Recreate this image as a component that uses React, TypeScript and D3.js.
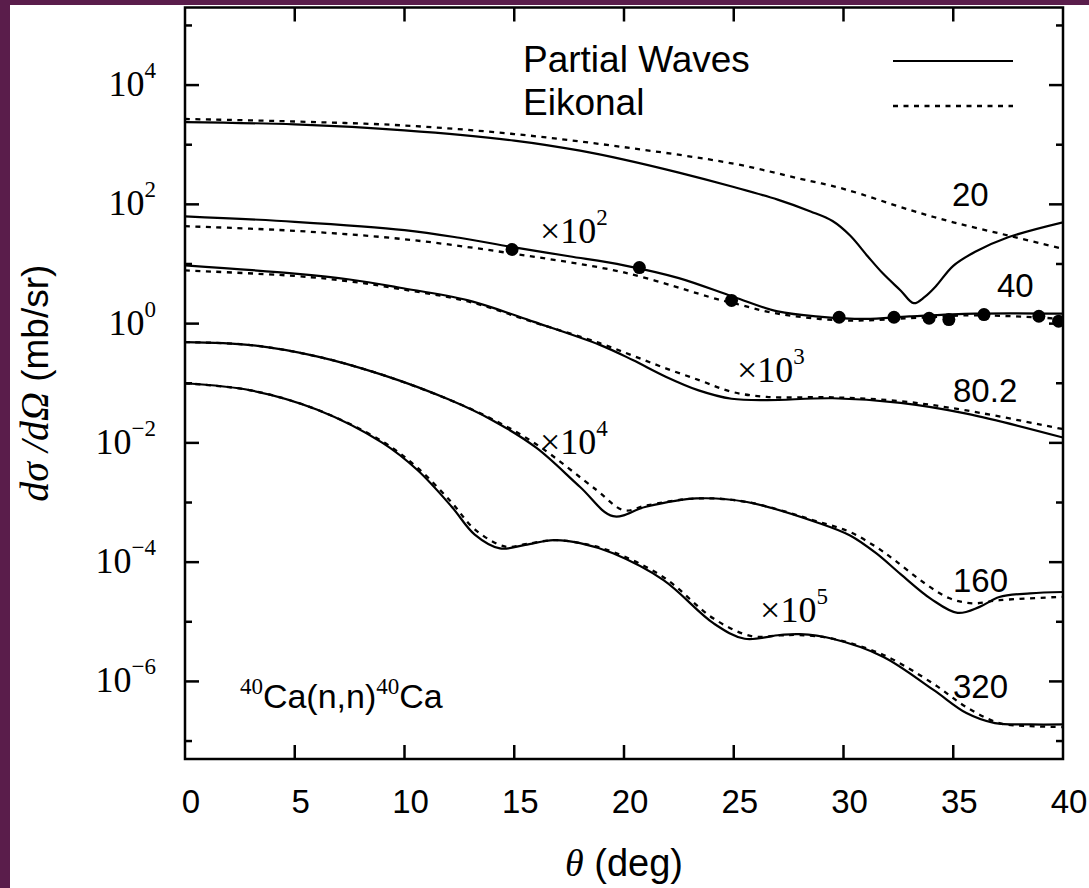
import React from 'react';
import * as d3 from 'd3';

type Pt = [number, number];

// differential cross sections, theta (deg) vs dsigma/dOmega (mb/sr), already scaled
const pw20: Pt[] = [[0, 2400], [5, 2190], [10, 1740], [15, 1175], [18, 795], [20, 562], [22.5, 340], [25, 195], [27, 120], [28.5, 76], [29.5, 52.5], [30.3, 30], [31.1, 13.5], [31.8, 6.9], [32.6, 3.6], [33.2, 2.2], [33.7, 2.8], [34.2, 4.2], [35, 9.3], [36, 16], [37.5, 28], [40, 50]];
const ek20: Pt[] = [[0, 2700], [5, 2450], [10, 2100], [15, 1510], [20, 910], [25, 480], [28, 270], [30, 182], [33, 81], [35, 50], [37.5, 30], [40, 18]];

const pw40: Pt[] = [[0, 63], [5, 51], [10, 37], [12.5, 27.5], [15, 19], [17.5, 13.5], [20, 9.5], [22.5, 5.8], [25, 2.8], [27, 1.6], [29, 1.3], [31, 1.2], [33, 1.32], [36, 1.47], [40, 1.47]];
const ek40: Pt[] = [[0, 43], [5, 36], [10, 26], [15, 14.8], [20, 7.2], [24.2, 2.6], [25, 2.2], [27, 1.47], [30, 1.13], [33, 1.23], [36, 1.38], [40, 1.2]];
const exp40: Pt[] = [[14.9, 17.5], [20.7, 8.7], [24.9, 2.45], [29.8, 1.28], [32.3, 1.28], [33.9, 1.23], [34.8, 1.17], [36.4, 1.42], [38.9, 1.33], [39.8, 1.1]];

const pw80: Pt[] = [[0, 9.5], [5, 6.9], [7.5, 5.5], [9.8, 4.0], [12.9, 2.45], [15.9, 1.07], [18.9, 0.44], [20.4, 0.245], [21.9, 0.129], [23.4, 0.076], [24.9, 0.055], [26.5, 0.052], [29.5, 0.056], [32.6, 0.047], [35.6, 0.031], [40, 0.0123]];
const ek80: Pt[] = [[0, 7.8], [5, 6.3], [7.5, 5.1], [9.8, 3.8], [12.9, 2.35], [15.9, 1.05], [18.9, 0.47], [20.4, 0.29], [21.9, 0.178], [23.5, 0.11], [24.9, 0.072], [26.5, 0.059], [29.5, 0.058], [32.6, 0.05], [35.6, 0.035], [40, 0.017]];

const pw160: Pt[] = [[0, 0.49], [3, 0.437], [6, 0.282], [9, 0.138], [12, 0.0537], [14, 0.024], [16, 0.0083], [18, 0.00182], [19.5, 5.9e-4], [21, 8.5e-4], [23.3, 1.17e-3], [25.6, 1.02e-3], [28.9, 4.5e-4], [30.3, 2.8e-4], [31.5, 1.4e-4], [32.6, 6.3e-5], [34, 2.4e-5], [35.2, 1.41e-5], [36.2, 1.78e-5], [37.1, 2.6e-5], [38.5, 3.0e-5], [40, 3.16e-5]];
const ek160: Pt[] = [[0, 0.49], [3, 0.437], [6, 0.282], [9, 0.138], [12, 0.0537], [14, 0.025], [16, 0.0095], [18.75, 1.62e-3], [20, 7.4e-4], [21, 8.9e-4], [23.3, 1.17e-3], [25.6, 1.02e-3], [28.9, 4.7e-4], [30.3, 3.2e-4], [31.5, 1.78e-4], [32.3, 1.1e-4], [33.5, 5.0e-5], [34.8, 2.5e-5], [35.9, 2.04e-5], [37.1, 2.3e-5], [40, 2.63e-5]];

const pw320: Pt[] = [[0, 0.1], [3, 0.0759], [6, 0.0363], [9, 0.01], [10.6, 3.47e-3], [12.15, 8.5e-4], [13.2, 2.9e-4], [14.35, 1.7e-4], [15.5, 1.95e-4], [16.8, 2.34e-4], [18, 2.09e-4], [19.5, 1.41e-4], [21.8, 5.0e-5], [24.1, 9.3e-6], [25.5, 5.2e-6], [27.1, 6.0e-6], [28, 6.2e-6], [29.5, 5.2e-6], [31.8, 2.6e-6], [34.1, 7.2e-7], [35.6, 2.95e-7], [36.9, 2.0e-7], [38.5, 1.9e-7], [40, 1.9e-7]];
const ek320: Pt[] = [[0, 0.1], [3, 0.0759], [6, 0.0363], [9, 0.0105], [10.6, 3.8e-3], [12.15, 1.0e-3], [13.2, 3.55e-4], [14.6, 1.82e-4], [15.5, 2.0e-4], [16.8, 2.34e-4], [18, 2.09e-4], [19.5, 1.48e-4], [21.8, 5.6e-5], [24.1, 1.12e-5], [25.8, 5.75e-6], [27.1, 5.9e-6], [28, 6.0e-6], [29.5, 5.2e-6], [31.8, 2.8e-6], [34.1, 9.1e-7], [35.6, 3.7e-7], [37.1, 2.0e-7], [38.5, 1.78e-7], [40, 1.72e-7]];

const partialWaves = [pw20, pw40, pw80, pw160, pw320];
const eikonal = [ek20, ek40, ek80, ek160, ek320];
const energies = ['20', '40', '80.2', '160', '320'];
const energyAt: Pt[] = [[34.94, 95], [36.99, 2.75], [34.99, 0.048], [34.99, 3.2e-5], [34.99, 5.2e-7]];
const scaleExps = ['2', '3', '4', '5'];
const scaleAt: Pt[] = [[16.17, 22.9], [25.15, 0.105], [16.17, 6.5e-3], [26.2, 1e-5]];
const legendLabels = ['Partial Waves', 'Eikonal'];
const xTicks = [0, 5, 10, 15, 20, 25, 30, 35, 40];
const yExps = [-7, -6, -5, -4, -3, -2, -1, 0, 1, 2, 3, 4, 5];

const W = 1089, H = 888;
const left = 185, right = 1063, top = 7.5, bottom = 759;
const serif = '"Liberation Serif", "DejaVu Serif", serif';
const sans = '"Liberation Sans", Arial, sans-serif';

export default function App() {
  const x = d3.scaleLinear().domain([0, 40]).range([left, right]);
  const y = d3.scaleLog().domain([5e-8, 2e5]).range([bottom, top]);
  const line = d3.line<Pt>().x(d => x(d[0])).y(d => y(d[1])).curve(d3.curveCatmullRom.alpha(0.5));

  return (
    <svg width={W} height={H} style={{ position: 'absolute', left: 0, top: 0, display: 'block' }}>
      <rect width={W} height={H} fill="#5a1d4b" />
      <rect x={10} y={5} width={W - 10} height={H - 5} fill="#fff" />
      <defs>
        <clipPath id="plot"><rect x={left} y={top} width={right - left} height={bottom - top} /></clipPath>
      </defs>

      <g clipPath="url(#plot)" fill="none" stroke="#000">
        {eikonal.map((d, i) => <path key={'e' + i} d={line(d) || ''} strokeWidth={2.3} strokeDasharray="5 5.5" />)}
        {partialWaves.map((d, i) => <path key={'p' + i} d={line(d) || ''} strokeWidth={2.2} />)}
        {exp40.map((d, i) => <circle key={'c' + i} cx={x(d[0])} cy={y(d[1])} r={6.5} fill="#000" stroke="none" />)}
      </g>

      {/* frame and ticks */}
      <g stroke="#000" strokeWidth={2.5}>
        <rect x={left} y={top} width={right - left} height={bottom - top} fill="none" />
        {xTicks.slice(1, -1).map(t => (
          <g key={t}>
            <line x1={x(t)} x2={x(t)} y1={bottom} y2={bottom - 14} />
            <line x1={x(t)} x2={x(t)} y1={top} y2={top + 14} />
          </g>
        ))}
        {yExps.map(e => {
          const len = e % 2 === 0 ? 14 : 7;
          const yy = y(Math.pow(10, e));
          return (
            <g key={e}>
              <line x1={left} x2={left + len} y1={yy} y2={yy} />
              <line x1={right} x2={right - len} y1={yy} y2={yy} />
            </g>
          );
        })}
      </g>

      {/* tick labels */}
      <g fontFamily={sans} fontSize={33} textAnchor="middle" fill="#000">
        {xTicks.map(t => <text key={t} x={x(t) + 6} y={813}>{t}</text>)}
      </g>
      <g fontFamily={serif} fill="#000" textAnchor="end">
        {yExps.filter(e => e % 2 === 0).map(e => (
          <text key={e} x={156} y={y(Math.pow(10, e)) + 11}>
            <tspan fontSize={36}>10</tspan>
            <tspan fontSize={23} dy={-18}>{e < 0 ? '\u2212' + -e : e}</tspan>
          </text>
        ))}
      </g>

      {/* axis titles */}
      <text x={624} y={876} textAnchor="middle" fill="#000">
        <tspan fontFamily={serif} fontStyle="italic" fontSize={38}>θ</tspan>
        <tspan fontFamily={sans} fontSize={38}> (deg)</tspan>
      </text>
      <text transform={`translate(48,${(top + bottom) / 2}) rotate(-90)`} textAnchor="middle" fill="#000">
        <tspan fontFamily={serif} fontStyle="italic" fontSize={40}>dσ /dΩ</tspan>
        <tspan fontFamily={sans} fontSize={37}> (mb/sr)</tspan>
      </text>

      {/* legend */}
      <g fontFamily={sans} fontSize={37} fill="#000">
        <text x={523} y={72}>{legendLabels[0]}</text>
        <text x={523} y={115}>{legendLabels[1]}</text>
      </g>
      <line x1={893} x2={1013} y1={61} y2={61} stroke="#000" strokeWidth={2.2} />
      <line x1={893} x2={1013} y1={106} y2={106} stroke="#000" strokeWidth={2.3} strokeDasharray="5 5.5" />

      {/* curve annotations */}
      <g fontFamily={sans} fontSize={33} fill="#000">
        {energies.map((e, i) => <text key={e} x={x(energyAt[i][0])} y={y(energyAt[i][1])}>{e}</text>)}
      </g>
      <g fontFamily={serif} fill="#000">
        {scaleExps.map((e, i) => (
          <text key={e} x={x(scaleAt[i][0])} y={y(scaleAt[i][1])}>
            <tspan fontSize={36}>×10</tspan>
            <tspan fontSize={23} dy={-18}>{e}</tspan>
          </text>
        ))}
      </g>
      <text x={x(2.5)} y={y(3.6e-7)} fill="#000">
        <tspan fontFamily={serif} fontSize={23} dy={-14}>40</tspan>
        <tspan fontFamily={sans} fontSize={34} dy={14}>Ca(n,n)</tspan>
        <tspan fontFamily={serif} fontSize={23} dy={-14}>40</tspan>
        <tspan fontFamily={sans} fontSize={34} dy={14}>Ca</tspan>
      </text>
    </svg>
  );
}
